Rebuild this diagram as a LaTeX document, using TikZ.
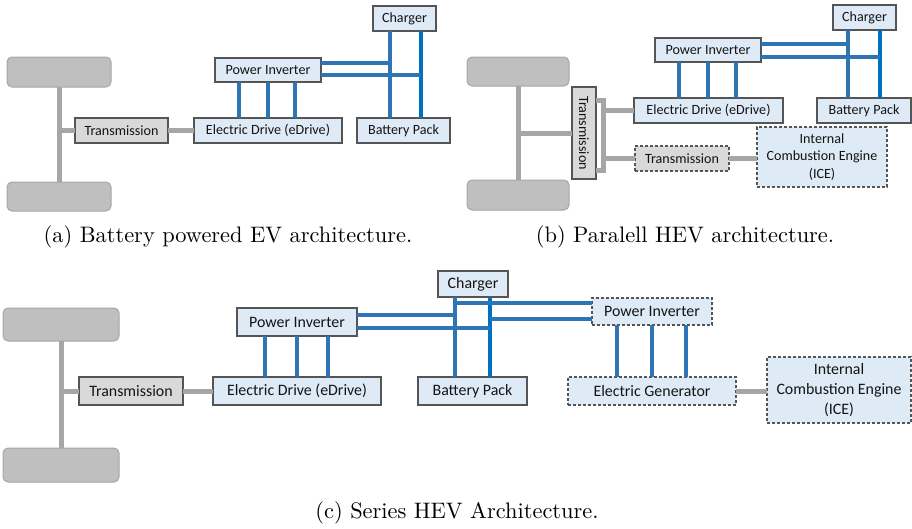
\documentclass[tikz,border=0pt]{standalone}
\usepackage{fontspec}
\newfontfamily\boxfont{Carlito}
\newfontfamily\capfont{lmroman10-regular.otf}
\definecolor{bfill}{HTML}{DEEBF7}
\definecolor{tfill}{HTML}{D9D9D9}
\definecolor{wfill}{HTML}{BFBFBF}
\definecolor{wline}{HTML}{A6A6A6}
\definecolor{gline}{HTML}{A6A6A6}
\definecolor{bline}{HTML}{2E75B6}
\definecolor{bline2}{HTML}{0070C0}
\definecolor{edge}{HTML}{555555}
\tikzset{
  base/.style={draw=edge, line width=1.1pt, inner sep=0pt, outer sep=0pt, anchor=north west, align=center, text=black!92},
  fa/.style={font=\boxfont\fontsize{14.1}{15.5}\selectfont},
  fc/.style={font=\boxfont\fontsize{15.9}{17.5}\selectfont},
  bluebox/.style={base, fill=bfill},
  graybox/.style={base, fill=tfill},
  dashbox/.style={dash pattern=on 3pt off 2pt},
  wheel/.style={draw=wline, line width=1pt, fill=wfill, rounded corners=5pt, inner sep=0pt, outer sep=0pt, anchor=north west},
  gl/.style={draw=gline, line width=5pt},
  bl/.style={draw=bline, line width=4.5pt},
  bl2/.style={draw=bline2, line width=4.5pt},
  captext/.style={font=\capfont\fontsize{22.4}{26}\selectfont, text=black},
}
\begin{document}
\begin{tikzpicture}[x=1pt,y=-1pt]
\useasboundingbox (0,0) rectangle (912,528);
% ================= (a) =================
\node[wheel, minimum width=104, minimum height=30] (wA1) at (7,57) {};
\node[wheel, minimum width=104, minimum height=29] (wA2) at (7,182) {};
\node[graybox, fa, minimum width=93, minimum height=25] (trA) at (75,118) {Transmission};
\node[bluebox, fa, minimum width=148, minimum height=25] (edA) at (194,118) {Electric Drive (eDrive)};
\node[bluebox, fa, minimum width=93, minimum height=25] (bpA) at (357,118) {Battery Pack};
\node[bluebox, fa, minimum width=106, minimum height=24] (piA) at (215,58) {Power Inverter};
\node[bluebox, fa, minimum width=63, minimum height=25] (chA) at (373,6) {Charger};
\draw[gl] (wA1.south) -- (wA2.north);
\draw[gl] (trA.west) -- (trA.west -| wA1.south);
\draw[gl] (trA.east) -- (edA.west);
\foreach \dx in {-29,0,27} \draw[bl] ([xshift=\dx pt]piA.south) -- ([xshift=\dx pt]piA.south |- edA.north);
\draw[bl] ([xshift=-14.5pt]chA.south) -- ([xshift=-14.5pt]chA.south |- bpA.north);
\draw[bl2] ([xshift=16.5pt]chA.south) -- ([xshift=16.5pt]chA.south |- bpA.north);
\draw[bl] ([yshift=7pt]piA.east) -- ([yshift=7pt,xshift=-14.5pt]piA.east -| chA.south);
\draw[bl] ([yshift=-5pt]piA.east) -- ([yshift=-5pt,xshift=16.5pt]piA.east -| chA.south);
\node[captext] (capA) at (228,237) {(a) Battery powered EV architecture.};
% ================= (b) =================
\node[wheel, minimum width=102, minimum height=29] (wB1) at (467,57) {};
\node[wheel, minimum width=102, minimum height=30] (wB2) at (467,180) {};
\node[graybox, fa, anchor=center, rotate=-90, minimum width=92, minimum height=24] (trB) at (584,133) {Transmission};
\node[bluebox, fa, minimum width=149, minimum height=25] (edB) at (634,98) {Electric Drive (eDrive)};
\node[graybox, dashbox, fa, minimum width=94, minimum height=25] (trB2) at (635,146) {Transmission};
\node[bluebox, dashbox, fa, minimum width=130, minimum height=60] (iceB) at (757,127) {Internal\\[2pt]Combustion Engine\\[2pt](ICE)};
\node[bluebox, fa, minimum width=94, minimum height=25] (bpB) at (817,98) {Battery Pack};
\node[bluebox, fa, minimum width=106, minimum height=24] (piB) at (655,38) {Power Inverter};
\node[bluebox, fa, minimum width=63, minimum height=25] (chB) at (833,5) {Charger};
\draw[gl] (wB1.south) -- (wB2.north);
\draw[gl] (trB.south) -- (trB.south -| wB1.south);
\coordinate (brT) at (603,100);
\coordinate (brB) at (603,170);
\draw[gl, line join=miter] (brT -| trB.north) -- (brT) -- (brB) -- (brB -| trB.north);
\draw[gl] (edB.west) -- (edB.west -| brT);
\draw[gl] (trB2.west) -- (trB2.west -| brT);
\draw[gl] (trB2.east) -- (trB2.east -| iceB.west);
\foreach \dx in {-29,0,28} \draw[bl] ([xshift=\dx pt]piB.south) -- ([xshift=\dx pt]piB.south |- edB.north);
\draw[bl] ([xshift=-16.5pt]chB.south) -- ([xshift=-16.5pt]chB.south |- bpB.north);
\draw[bl2] ([xshift=15.5pt]chB.south) -- ([xshift=15.5pt]chB.south |- bpB.north);
\draw[bl] ([yshift=6pt]piB.east) -- ([yshift=6pt,xshift=-16.5pt]piB.east -| chB.south);
\draw[bl] ([yshift=-7pt]piB.east) -- ([yshift=-7pt,xshift=15.5pt]piB.east -| chB.south);
\node[captext] (capB) at (685,237) {(b) Paralell HEV architecture.};
% ================= (c) =================
\node[wheel, minimum width=116, minimum height=33] (wC1) at (3,308) {};
\node[wheel, minimum width=116, minimum height=34] (wC2) at (3,448) {};
\node[graybox, fc, minimum width=104, minimum height=28] (trC) at (79,377) {Transmission};
\node[bluebox, fc, minimum width=168, minimum height=28] (edC) at (213,377) {Electric Drive (eDrive)};
\node[bluebox, fc, minimum width=120, minimum height=28] (piC) at (237,308) {Power Inverter};
\node[bluebox, fc, minimum width=70, minimum height=26] (chC) at (438,271) {Charger};
\node[bluebox, fc, minimum width=109, minimum height=28] (bpC) at (418,377) {Battery Pack};
\node[bluebox, dashbox, fc, minimum width=120, minimum height=27] (piC2) at (592,298) {Power Inverter};
\node[bluebox, dashbox, fc, minimum width=168, minimum height=28] (egC) at (568,377) {Electric Generator};
\node[bluebox, dashbox, fc, minimum width=144, minimum height=66] (iceC) at (767,357) {Internal\\[2.5pt]Combustion Engine\\[2.5pt](ICE)};
\draw[gl] (wC1.south) -- (wC2.north);
\draw[gl] (trC.west) -- (trC.west -| wC1.south);
\draw[gl] (trC.east) -- (edC.west);
\draw[gl] (egC.east) -- (egC.east -| iceC.west);
\foreach \dx in {-32,0,31} \draw[bl] ([xshift=\dx pt]piC.south) -- ([xshift=\dx pt]piC.south |- edC.north);
\foreach \dx in {-35,0,34} \draw[bl] ([xshift=\dx pt]piC2.south) -- ([xshift=\dx pt]piC2.south |- egC.north);
\coordinate (cl) at ([xshift=-18pt]chC.south);
\coordinate (cr) at ([xshift=17pt]chC.south);
\draw[bl] (cl) -- (cl |- bpC.north);
\draw[bl2] (cr) -- (cr |- bpC.north);
\draw[bl] ([yshift=7pt]piC.east) -- ([yshift=7pt]piC.east -| cl);
\draw[bl] ([yshift=-6pt]piC.east) -- ([yshift=-6pt]piC.east -| cr);
\draw[bl] ([yshift=8.5pt]piC2.west) -- ([yshift=8.5pt]piC2.west -| cl);
\draw[bl] ([yshift=-7.5pt]piC2.west) -- ([yshift=-7.5pt]piC2.west -| cr);
\node[captext] (capC) at (457,513) {(c) Series HEV Architecture.};
\end{tikzpicture}
\end{document}
